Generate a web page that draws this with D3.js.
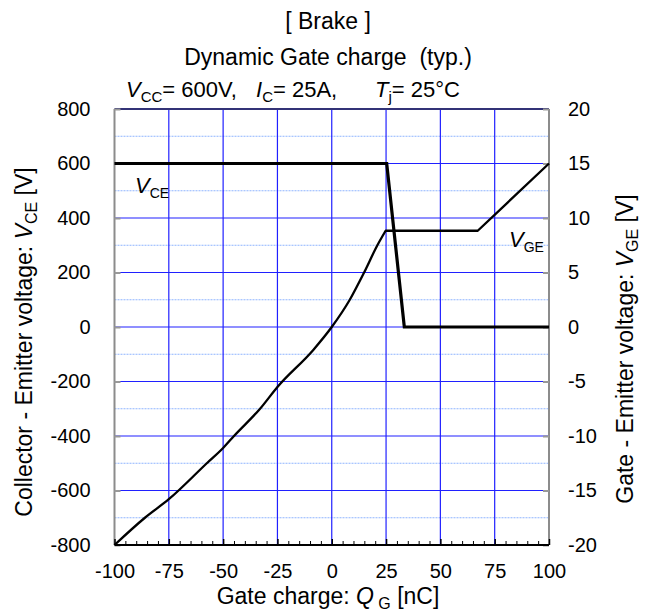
<!DOCTYPE html>
<html><head><meta charset="utf-8">
<script src="https://cdn.jsdelivr.net/npm/d3@7/dist/d3.min.js"></script>
<style>body{margin:0;background:#fff}svg{display:block;font-family:"Liberation Sans",Arial,sans-serif}</style>
</head><body><svg id="c" width="654" height="612"></svg>
<script>
// ---- data ----
const xTicks = [-100,-75,-50,-25,0,25,50,75,100];
const yLeftTicks = [-800,-600,-400,-200,0,200,400,600,800];
const yRightTicks = [-20,-15,-10,-5,0,5,10,15,20];
const yMinorGrid = [-700,-500,-300,-100,100,300,500,700];
// V_CE curve (left axis, V) vs Q_G (nC)
const vceQ = [-100, 25.3, 33.4, 100];
const vceV = [600, 600, 0, 0];
// V_GE curve (right axis, V) vs Q_G (nC): rising part, then plateau and final ramp
const vgeQ = [-100,-86,-75,-57.5,-50,-45,-33,-25,-8.5,0,8.3,14.9,21,24.8];
const vgeV = [-20,-17.5,-15.8,-12.5,-11.1,-10,-7.5,-5.5,-2.1,0,2.5,5,7.5,8.83];
const vgeTailQ = [24.8,67.2,100];
const vgeTailV = [8.83,8.83,15];

const L=114.5, R=549, T=109, B=545;
const svg = d3.select("#c");
const x = d3.scaleLinear().domain([-100,100]).range([L,R]);
const yL = d3.scaleLinear().domain([-800,800]).range([B,T]);
const yR = d3.scaleLinear().domain([-20,20]).range([B,T]);
const FONT = "Liberation Sans, Arial, sans-serif";

// minor dashed grid
svg.append("g").selectAll("line").data(yMinorGrid).join("line")
  .attr("x1",L).attr("x2",R).attr("y1",d=>yL(d)).attr("y2",d=>yL(d))
  .attr("stroke","#8fb4ff").attr("stroke-width",1).attr("stroke-dasharray","2,1");
// major grid
svg.append("g").selectAll("line").data(yLeftTicks.slice(1,-1)).join("line")
  .attr("x1",L).attr("x2",R).attr("y1",d=>yL(d)).attr("y2",d=>yL(d))
  .attr("stroke","#2020ff").attr("stroke-width",1.2);
svg.append("g").selectAll("line").data(xTicks.slice(1,-1)).join("line")
  .attr("y1",T).attr("y2",B).attr("x1",d=>x(d)).attr("x2",d=>x(d))
  .attr("stroke","#2020ff").attr("stroke-width",1.2);

// top border
svg.append("line").attr("x1",L).attr("x2",R).attr("y1",T).attr("y2",T)
  .attr("stroke","#333377").attr("stroke-width",2);

// left axis
const gL = svg.append("g").attr("transform",`translate(${L},0)`)
  .call(d3.axisLeft(yL).tickValues(yLeftTicks).tickSize(-6).tickPadding(24).tickFormat(d=>String(d)));
gL.select(".domain").attr("stroke","#8c8c8c").attr("stroke-width",2).attr("d",`M0,${T}V${B}`);
gL.selectAll(".tick line").attr("stroke","#999").attr("stroke-width",2);
gL.selectAll(".tick text").attr("font-size",20).attr("fill","#000").attr("font-family",FONT);

// right axis
const gR = svg.append("g").attr("transform",`translate(${R},0)`)
  .call(d3.axisRight(yR).tickValues(yRightTicks).tickSize(-6).tickPadding(19).tickFormat(d=>String(d)));
gR.select(".domain").attr("stroke","#8c8c8c").attr("stroke-width",2).attr("d",`M0,${T}V${B}`);
gR.selectAll(".tick line").attr("stroke","#999").attr("stroke-width",2);
gR.selectAll(".tick text").attr("font-size",20).attr("fill","#000").attr("font-family",FONT);

// bottom axis (minor ticks)
const minorX = d3.range(-100,101,5);
const gBm = svg.append("g").attr("transform",`translate(0,${B})`)
  .call(d3.axisBottom(x).tickValues(minorX.filter(v=>v%25!==0)).tickSize(-4).tickFormat(""));
gBm.select(".domain").remove();
gBm.selectAll(".tick line").attr("stroke","#000").attr("stroke-width",1);
const gB = svg.append("g").attr("transform",`translate(0,${B})`)
  .call(d3.axisBottom(x).tickValues(xTicks).tickSize(-6).tickPadding(19).tickFormat(d=>String(d)));
gB.select(".domain").attr("stroke","#000").attr("stroke-width",2).attr("d",`M${L},0H${R}`);
gB.selectAll(".tick line").attr("stroke","#000").attr("stroke-width",1.5);
gB.selectAll(".tick text").attr("font-size",20).attr("fill","#000").attr("font-family",FONT);

// curves
const rise = vgeQ.map((q,i)=>[q,vgeV[i]]);
const tail = vgeTailQ.map((q,i)=>[q,vgeTailV[i]]);
const vce = vceQ.map((q,i)=>[q,vceV[i]]);
const riseD = d3.line().x(d=>x(d[0])).y(d=>yR(d[1])).curve(d3.curveMonotoneX)(rise);
const tailD = d3.line().x(d=>x(d[0])).y(d=>yR(d[1]))(tail);
svg.append("path").attr("d",riseD + "L" + tailD.slice(1))
  .attr("fill","none").attr("stroke","#000").attr("stroke-width",2.3).attr("stroke-linejoin","round");
svg.append("path").attr("d",d3.line().x(d=>x(d[0])).y(d=>yL(d[1]))(vce))
  .attr("fill","none").attr("stroke","#000").attr("stroke-width",3.2).attr("stroke-linejoin","miter");

// texts
function rich(xx, yy, parts, size, subSize, anchor, rotate){
  const el = svg.append("text").attr("font-size",size).attr("fill","#000")
    .attr("text-anchor",anchor||"start");
  if(rotate) el.attr("transform",`translate(${xx},${yy}) rotate(${rotate})`);
  else el.attr("x",xx).attr("y",yy);
  let down = 0;
  parts.forEach(p=>{
    const ts = el.append("tspan").text(p.t);
    if(p.i) ts.attr("font-style","italic");
    if(p.s){ ts.attr("font-size",subSize); if(!down){ts.attr("dy",5); down=1;} }
    else if(down){ ts.attr("dy",-5); down=0; }
  });
  return el;
}
svg.append("text").attr("x",328).attr("y",29).attr("text-anchor","middle").attr("font-size",23).text("[ Brake ]");
svg.append("text").attr("x",328).attr("y",65).attr("text-anchor","middle").attr("font-size",23).text("Dynamic Gate charge\u00a0\u00a0(typ.)");
rich(126,97,[{t:"V",i:1},{t:"CC",s:1},{t:"= 600V,"}],22,15);
rich(256,97,[{t:"I",i:1},{t:"C",s:1},{t:"= 25A,"}],22,15);
rich(375,97,[{t:"T",i:1},{t:"j",s:1},{t:"= 25°C"}],22,15);
rich(135,193,[{t:"V",i:1},{t:"CE",s:1}],22,14);
rich(509,247,[{t:"V",i:1},{t:"GE",s:1}],22,14);
rich(328,604,[{t:"Gate charge: "},{t:"Q",i:1},{t:" G",s:1},{t:" [nC]"}],23,16,"middle");
rich(32,342,[{t:"Collector - Emitter voltage: "},{t:"V",i:1},{t:"CE",s:1},{t:" [V]"}],23,16,"middle",-90);
rich(633,349,[{t:"Gate - Emitter voltage: "},{t:"V",i:1},{t:"GE",s:1},{t:" [V]"}],23,16,"middle",-90);
</script></body></html>
